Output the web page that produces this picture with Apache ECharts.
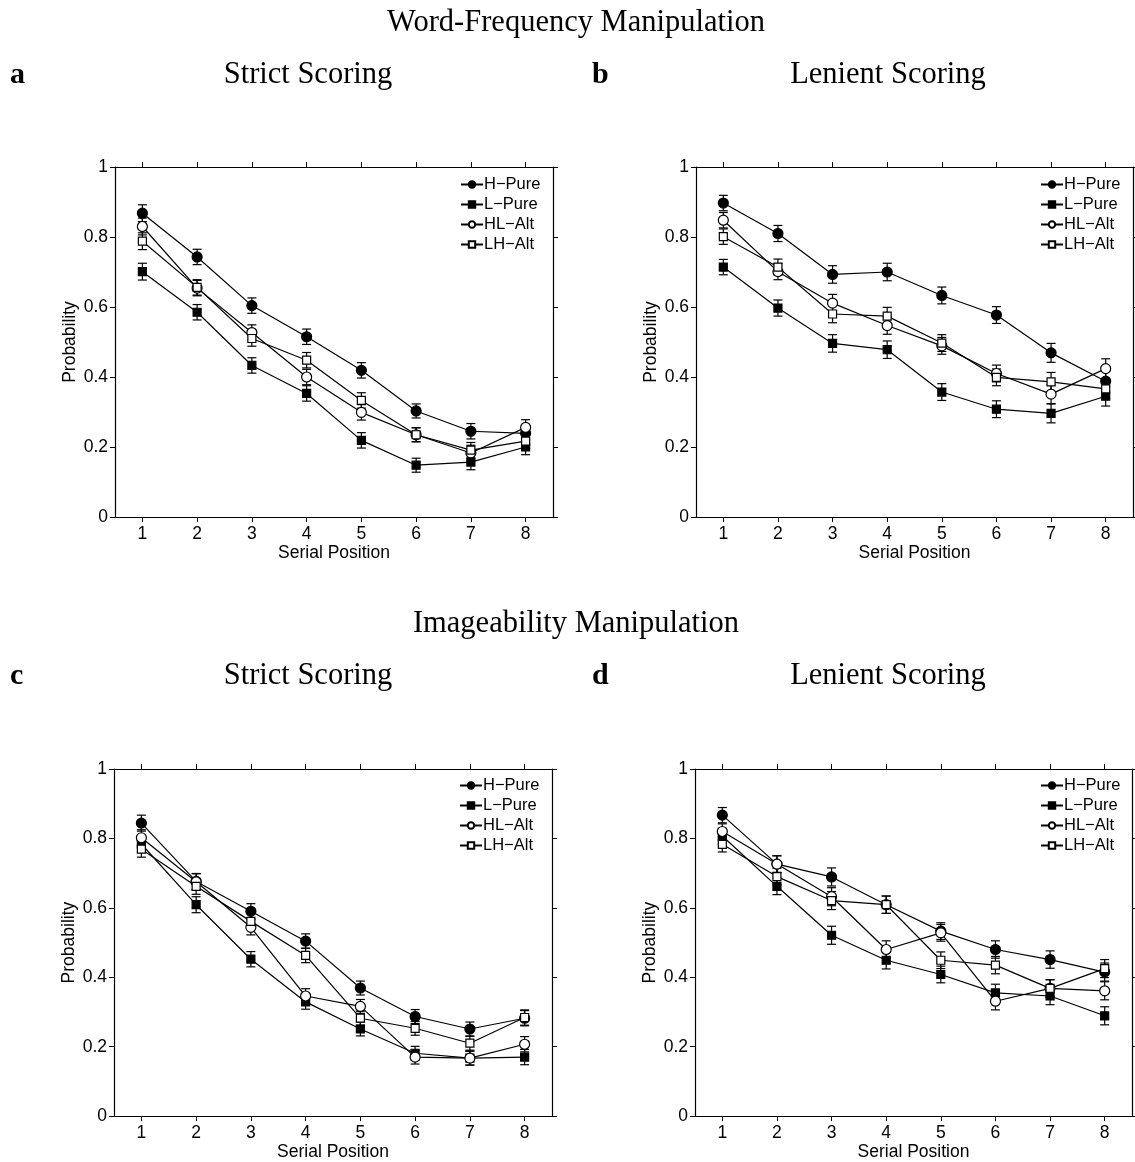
<!DOCTYPE html>
<html>
<head>
<meta charset="utf-8">
<script src="https://cdn.jsdelivr.net/npm/echarts@6/dist/echarts.min.js"></script>
<style>
html,body{margin:0;padding:0;background:#fff;}
#chart{width:1135px;height:1162px;}
</style>
</head>
<body>
<div id="chart"></div>
<script>
// ---------- data ----------
const categories = ['1','2','3','4','5','6','7','8'];
const seriesNames = ['H\u2212Pure','L\u2212Pure','HL\u2212Alt','LH\u2212Alt'];

// Panel a: Word-Frequency, Strict Scoring
const aHPure = [0.868, 0.743, 0.604, 0.515, 0.419, 0.303, 0.245, 0.239];
const aLPure = [0.701, 0.585, 0.433, 0.353, 0.219, 0.148, 0.157, 0.200];
const aHLAlt = [0.830, 0.654, 0.527, 0.400, 0.299, 0.235, 0.183, 0.256];
const aLHAlt = [0.788, 0.656, 0.510, 0.448, 0.333, 0.235, 0.191, 0.217];
const aSE    = [0.024, 0.022, 0.022, 0.022, 0.022, 0.020, 0.022, 0.022];

// Panel b: Word-Frequency, Lenient Scoring
const bHPure = [0.897, 0.810, 0.693, 0.700, 0.633, 0.577, 0.469, 0.388];
const bLPure = [0.714, 0.597, 0.496, 0.478, 0.357, 0.308, 0.296, 0.345];
const bHLAlt = [0.848, 0.701, 0.611, 0.547, 0.489, 0.410, 0.351, 0.424];
const bLHAlt = [0.801, 0.714, 0.580, 0.574, 0.497, 0.399, 0.386, 0.366];
const bSE    = [0.022, 0.023, 0.025, 0.025, 0.024, 0.024, 0.027, 0.028];

// Panel c: Imageability, Strict Scoring
const cHPure = [0.844, 0.676, 0.590, 0.504, 0.369, 0.287, 0.251, 0.282];
const cLPure = [0.784, 0.609, 0.452, 0.329, 0.251, 0.181, 0.167, 0.170];
const cHLAlt = [0.802, 0.675, 0.544, 0.346, 0.316, 0.170, 0.167, 0.207];
const cLHAlt = [0.769, 0.662, 0.561, 0.463, 0.282, 0.253, 0.210, 0.284];
const cSE    = [0.023, 0.023, 0.022, 0.021, 0.020, 0.020, 0.020, 0.022];

// Panel d: Imageability, Lenient Scoring
const dHPure = [0.867, 0.726, 0.689, 0.609, 0.533, 0.480, 0.451, 0.415];
const dLPure = [0.807, 0.662, 0.521, 0.449, 0.408, 0.355, 0.346, 0.289];
const dHLAlt = [0.820, 0.726, 0.632, 0.480, 0.528, 0.331, 0.368, 0.361];
const dLHAlt = [0.783, 0.690, 0.621, 0.609, 0.449, 0.435, 0.368, 0.425];
const dSE    = [0.022, 0.024, 0.026, 0.025, 0.024, 0.025, 0.025, 0.026];

// ---------- layout ----------
const panels = [
  {grid:{left:115, top:167, width:438, height:350}, values:[aHPure,aLPure,aHLAlt,aLHAlt], se:aSE, legend:{left:460, top:176}},
  {grid:{left:696, top:167, width:437, height:350}, values:[bHPure,bLPure,bHLAlt,bLHAlt], se:bSE, legend:{left:1040, top:176}},
  {grid:{left:114, top:769, width:438, height:349}, values:[cHPure,cLPure,cHLAlt,cLHAlt], se:cSE, legend:{left:459, top:777}},
  {grid:{left:695, top:769, width:437, height:349}, values:[dHPure,dLPure,dHLAlt,dLHAlt], se:dSE, legend:{left:1040, top:777}}
];

const styles = [
  {symbol:'circle', size:10, fill:'#000'},
  {symbol:'rect',   size:8,  fill:'#000'},
  {symbol:'circle', size:10, fill:'#fff'},
  {symbol:'rect',   size:8,  fill:'#fff'}
];

const sansFont = 'Liberation Sans';
const serifFont = 'Liberation Serif';
const LW = 1.2;
const FS = 17.5;

const grids = [], xAxes = [], yAxes = [], series = [], legends = [];

panels.forEach((p, pi) => {
  grids.push(Object.assign({containLabel:false}, p.grid));
  const line = {show:true, onZero:false, lineStyle:{color:'#000', width:LW}};
  const tick = {show:true, inside:false, length:5, lineStyle:{color:'#000', width:1}};
  // bottom x axis
  xAxes.push({
    type:'category', gridIndex:pi, data:categories, position:'bottom', boundaryGap:true,
    name:'Serial Position', nameLocation:'middle', nameGap:24,
    nameTextStyle:{fontFamily:sansFont, fontSize:FS, color:'#000'},
    axisLine:line,
    axisTick:Object.assign({alignWithLabel:true}, tick),
    axisLabel:{fontFamily:sansFont, fontSize:FS, color:'#000', margin:8},
    splitLine:{show:false}
  });
  // top x axis (ticks only)
  xAxes.push({
    type:'category', gridIndex:pi, data:categories, position:'top', boundaryGap:true,
    axisLine:line,
    axisTick:Object.assign({alignWithLabel:true}, tick),
    axisLabel:{show:false}, splitLine:{show:false}
  });
  // left y axis
  yAxes.push({
    type:'value', gridIndex:pi, min:0, max:1, interval:0.2, position:'left',
    name:'Probability', nameLocation:'middle', nameGap:36,
    nameTextStyle:{fontFamily:sansFont, fontSize:FS, color:'#000'},
    axisLine:line, axisTick:tick,
    axisLabel:{fontFamily:sansFont, fontSize:FS, color:'#000', margin:7},
    splitLine:{show:false}
  });
  // right y axis (ticks only)
  yAxes.push({
    type:'value', gridIndex:pi, min:0, max:1, interval:0.2, position:'right',
    axisLine:line, axisTick:tick,
    axisLabel:{show:false}, splitLine:{show:false}
  });

  const xIdx = pi * 2, yIdx = pi * 2;

  // error bars (drawn beneath markers)
  const ebData = [];
  p.values.forEach(arr => arr.forEach((v, i) => ebData.push([i, v, p.se[i]])));
  series.push({
    type:'custom', xAxisIndex:xIdx, yAxisIndex:yIdx, z:1, silent:true,
    data:ebData,
    renderItem:function(params, api){
      const x = api.value(0), y = api.value(1), e = api.value(2);
      const top = api.coord([x, y + e]);
      const bot = api.coord([x, y - e]);
      const hw = 4.5;
      const st = {stroke:'#000', lineWidth:LW};
      return {type:'group', children:[
        {type:'line', shape:{x1:top[0], y1:top[1], x2:bot[0], y2:bot[1]}, style:st},
        {type:'line', shape:{x1:top[0]-hw, y1:top[1], x2:top[0]+hw, y2:top[1]}, style:st},
        {type:'line', shape:{x1:bot[0]-hw, y1:bot[1], x2:bot[0]+hw, y2:bot[1]}, style:st}
      ]};
    }
  });

  p.values.forEach((arr, si) => {
    const s = styles[si];
    series.push({
      type:'line', name:seriesNames[si], xAxisIndex:xIdx, yAxisIndex:yIdx, z:3,
      data:arr, symbol:s.symbol, symbolSize:s.size, showSymbol:true,
      lineStyle:{color:'#000', width:LW},
      itemStyle:{color:s.fill, borderColor:'#000', borderWidth:LW},
      emphasis:{disabled:true}, animation:false
    });
  });

  legends.push({
    left:p.legend.left, top:p.legend.top, orient:'vertical', align:'left',
    data:seriesNames, padding:0, itemGap:3, itemWidth:22, itemHeight:8,
    textStyle:{fontFamily:sansFont, fontSize:16.5, color:'#000', padding:[0,0,0,-4]},
    selectedMode:false
  });
});

// ---------- titles ----------
const ROW2 = 601;
function txt(text, x, y, size, align, weight){
  return {type:'text', x:x, y:y, style:{text:text, fontFamily:serifFont, fontSize:size, fontWeight:weight||'normal', fill:'#000', align:align, verticalAlign:'middle'}};
}
const graphics = [
  txt('Word-Frequency Manipulation', 576, 23, 30.5, 'center'),
  txt('a', 10, 75, 30, 'left', 'bold'),
  txt('Strict Scoring', 308, 75, 30.5, 'center'),
  txt('b', 592, 75, 30, 'left', 'bold'),
  txt('Lenient Scoring', 888, 75, 30.5, 'center'),
  txt('Imageability Manipulation', 576, 23 + ROW2, 30.5, 'center'),
  txt('c', 10, 75 + ROW2, 30, 'left', 'bold'),
  txt('Strict Scoring', 308, 75 + ROW2, 30.5, 'center'),
  txt('d', 592, 75 + ROW2, 30, 'left', 'bold'),
  txt('Lenient Scoring', 888, 75 + ROW2, 30.5, 'center')
];

const chart = echarts.init(document.getElementById('chart'), null, {renderer:'canvas'});
chart.setOption({
  backgroundColor:'#fff',
  animation:false,
  grid:grids, xAxis:xAxes, yAxis:yAxes, series:series, legend:legends,
  graphic:graphics
});
</script>
</body>
</html>
